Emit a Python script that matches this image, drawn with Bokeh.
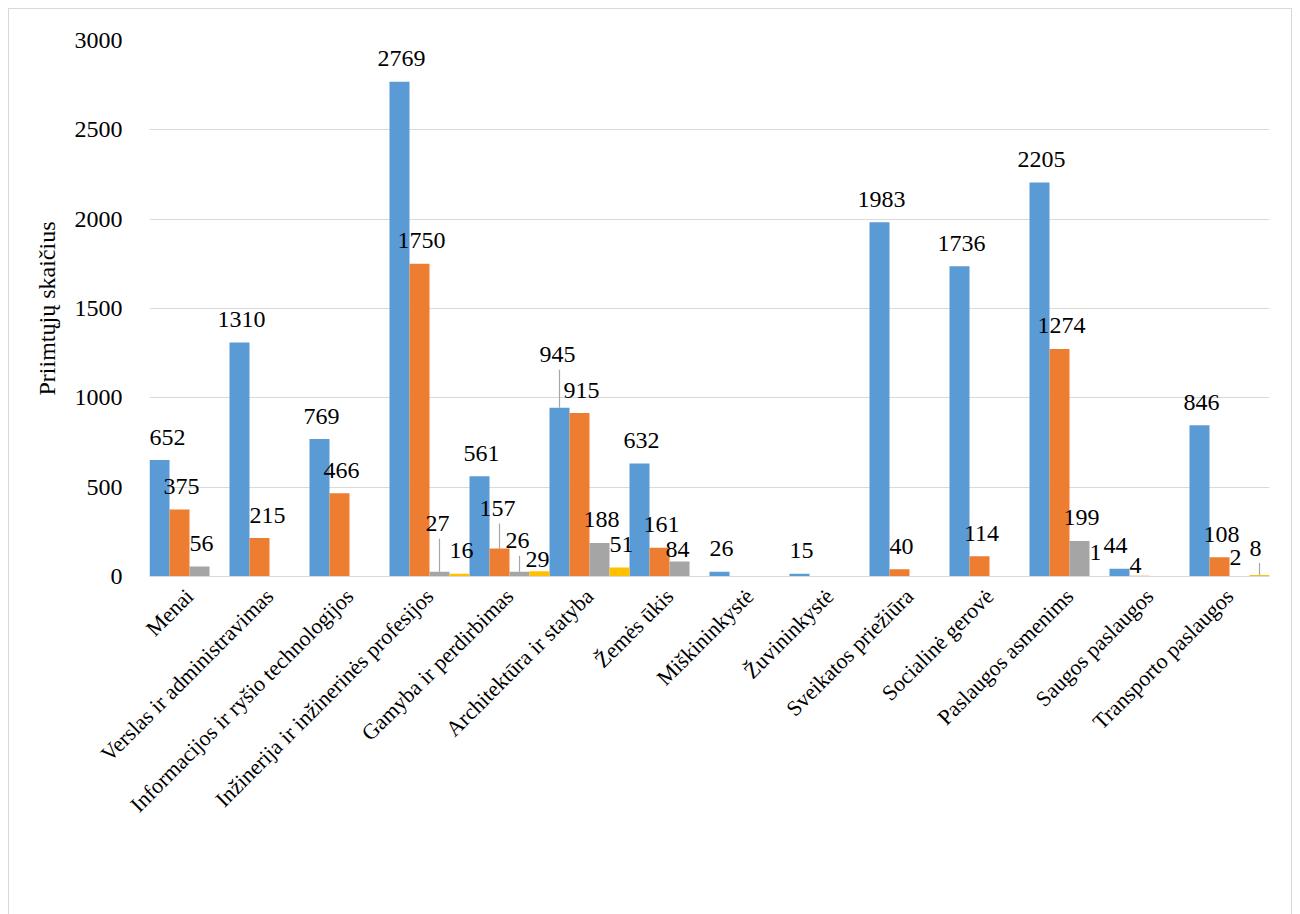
import math
from bokeh.plotting import figure
from bokeh.models import ColumnDataSource, Legend, LegendItem, FactorRange, FixedTicker, Range1d
from bokeh.transform import dodge
from bokeh.core.properties import value
from bokeh.embed import file_html
from bokeh.resources import INLINE

# ---------------- data ----------------
categories = [
    "Menai", "Verslas ir administravimas", "Informacijos ir ryšio technologijos",
    "Inžinerija ir inžinerinės profesijos", "Gamyba ir perdirbimas", "Architektūra ir statyba",
    "Žemės ūkis", "Miškininkystė", "Žuvininkystė", "Sveikatos priežiūra", "Socialinė gerovė",
    "Paslaugos asmenims", "Saugos paslaugos", "Transporto paslaugos",
]
series_names = ["Su viduriniu", "Su pagrindiniu", "Be pagrindinio", "Neįgiję išsilavinimo"]
su_viduriniu = [652, 1310, 769, 2769, 561, 945, 632, 26, 15, 1983, 1736, 2205, 44, 846]
su_pagrindiniu = [375, 215, 466, 1750, 157, 915, 161, None, None, 40, 114, 1274, 4, 108]
be_pagrindinio = [56, None, None, 27, 26, 188, 84, None, None, None, None, 199, None, 2]
neigije = [None, None, None, 16, 29, 51, None, None, None, None, None, 1, None, 8]
y_ticks = [0, 500, 1000, 1500, 2000, 2500, 3000]
y_title = "Priimtųjų skaičius"

# ---------------- styling ----------------
colors = ["#5b9bd5", "#ed7d31", "#a5a5a5", "#ffc000"]
offsets = [-0.375, -0.125, 0.125, 0.375]
FONT = "Liberation Serif"
FRAME_W, FRAME_H = 1120, 536
Y_MAX = 3000
upp = Y_MAX / FRAME_H  # data units per pixel
DEFAULT = (2, 23)
# label placement tweaks (series index, category index) -> (dx px, dy px above bar top)
label_adjust = {
    (0, 0): (8, 23),
    (1, 1): (8, 23),
    (2, 3): (-2, 48),
    (1, 4): (-2, 40),
    (2, 4): (-2, 31),
    (3, 4): (-2, 12),
    (0, 5): (-2, 53),
    (2, 6): (-2, 12),
    (3, 11): (-4, 24),
    (0, 12): (-4, 23),
    (1, 12): (-4, 10),
    (2, 13): (-4, 19),
    (3, 13): (-4, 27),
}
leaders = {(2, 3), (1, 4), (2, 4), (0, 5), (3, 13)}

p = figure(
    x_range=FactorRange(*categories),
    y_range=Range1d(0, Y_MAX),
    frame_width=FRAME_W, frame_height=FRAME_H,
    min_border_left=140, min_border_right=22, min_border_top=31, min_border_bottom=0,
    output_backend="svg", toolbar_location=None,
)
p.styles = {"border": "1px solid #d9d9d9", "margin": "8px"}
p.outline_line_color = None
p.background_fill_color = "white"
p.border_fill_color = "white"

all_series = [su_viduriniu, su_pagrindiniu, be_pagrindinio, neigije]
items = []
for si, (name, vals, col, off) in enumerate(zip(series_names, all_series, colors, offsets)):
    cats = [c for c, v in zip(categories, vals) if v is not None]
    vs = [v for v in vals if v is not None]
    idx = [i for i, v in enumerate(vals) if v is not None]
    src = ColumnDataSource(dict(cat=cats, v=vs))
    r = p.vbar(x=dodge("cat", off, range=p.x_range), top="v", width=0.25, source=src,
               fill_color=col, line_color=None)
    items.append(LegendItem(label=name, renderers=[r]))

    dxs, lys, txt = [], [], []
    lcats, lv, ltop = [], [], []
    for c, v, i in zip(cats, vs, idx):
        dx, dy = label_adjust.get((si, i), DEFAULT)
        dxs.append(dx)
        lys.append(v + dy * upp)
        txt.append(str(v))
        if (si, i) in leaders:
            lcats.append(c)
            lv.append(v)
            ltop.append(v + (dy - 15) * upp)
    lsrc = ColumnDataSource(dict(cat=cats, y=lys, t=txt, dx=dxs))
    p.text(x=dodge("cat", off, range=p.x_range), y="y", text="t", x_offset="dx", source=lsrc,
           text_font=value(FONT), text_font_size="24px", text_color="black",
           text_align="center", text_baseline="middle")
    if lcats:
        seg = ColumnDataSource(dict(cat=lcats, y0=lv, y1=ltop))
        p.segment(x0=dodge("cat", off, range=p.x_range), y0="y0",
                  x1=dodge("cat", off, range=p.x_range), y1="y1",
                  source=seg, line_color="#a6a6a6", line_width=1.2)

# axes
p.yaxis.ticker = FixedTicker(ticks=y_ticks)
p.yaxis.axis_line_color = None
p.yaxis.major_tick_line_color = None
p.yaxis.minor_tick_line_color = None
p.yaxis.major_label_text_font = FONT
p.yaxis.major_label_text_font_size = "24px"
p.yaxis.major_label_text_color = "black"
p.yaxis.major_label_standoff = 21
p.yaxis.axis_label = y_title
p.yaxis.axis_label_text_font = FONT
p.yaxis.axis_label_text_font_size = "24px"
p.yaxis.axis_label_text_font_style = "normal"
p.yaxis.axis_label_text_color = "black"
p.yaxis.axis_label_standoff = 12

p.xaxis.axis_line_color = "#d9d9d9"
p.xaxis.axis_line_width = 1
p.xaxis.major_tick_line_color = None
p.xaxis.minor_tick_line_color = None
p.xaxis.major_label_orientation = math.pi / 4
p.xaxis.major_label_text_font = FONT
p.xaxis.major_label_text_font_size = "22px"
p.xaxis.major_label_text_color = "black"
p.xaxis.major_label_standoff = 10

p.xgrid.grid_line_color = None
p.ygrid.grid_line_color = "#d9d9d9"
p.ygrid.grid_line_width = 1

legend = Legend(items=items, orientation="horizontal", location=(123, 0),
                glyph_width=11, glyph_height=11, label_standoff=5, spacing=36,
                label_text_font=FONT, label_text_font_size="24px", label_text_color="black",
                border_line_color=None, background_fill_alpha=0, padding=0, margin=2)
p.add_layout(legend, "below")

open("out.html", "w").write(file_html(p, INLINE))
